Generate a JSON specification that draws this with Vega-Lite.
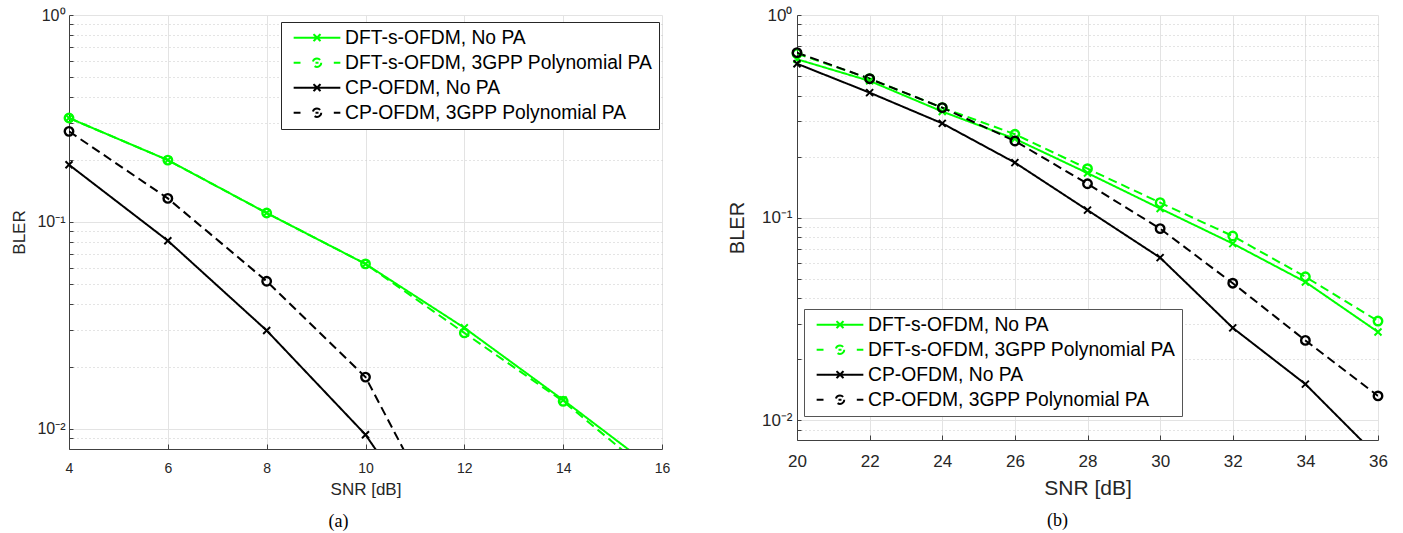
{
  "$schema": "https://vega.github.io/schema/vega-lite/v6.json",
  "padding": {"left": 10, "top": 6, "right": 5, "bottom": 2},
  "bounds": "flush",
  "spacing": 135,
  "resolve": {"scale": {"color": "independent", "strokeDash": "independent"}, "legend": {"color": "independent", "strokeDash": "independent"}},
  "config": {
    "view": {"stroke": null},
    "font": "Liberation Sans",
    "axis": {"labelFont": "Liberation Sans", "titleFont": "Liberation Sans", "titleFontWeight": "normal", "labelColor": "#262626", "titleColor": "#262626", "domainColor": "#404040", "tickColor": "#404040", "labelOverlap": false, "labelFlush": false}
  },
  "datasets": {
    "a": [
      {"series": "DFT-s-OFDM, No PA", "snr": 4, "bler": 0.318},
      {"series": "DFT-s-OFDM, No PA", "snr": 6, "bler": 0.199},
      {"series": "DFT-s-OFDM, No PA", "snr": 8, "bler": 0.1105},
      {"series": "DFT-s-OFDM, No PA", "snr": 10, "bler": 0.0627},
      {"series": "DFT-s-OFDM, No PA", "snr": 12, "bler": 0.0308},
      {"series": "DFT-s-OFDM, No PA", "snr": 14, "bler": 0.0138},
      {"series": "DFT-s-OFDM, No PA", "snr": 16, "bler": 0.006},
      {"series": "DFT-s-OFDM, 3GPP Polynomial PA", "snr": 4, "bler": 0.318},
      {"series": "DFT-s-OFDM, 3GPP Polynomial PA", "snr": 6, "bler": 0.199},
      {"series": "DFT-s-OFDM, 3GPP Polynomial PA", "snr": 8, "bler": 0.1105},
      {"series": "DFT-s-OFDM, 3GPP Polynomial PA", "snr": 10, "bler": 0.0627},
      {"series": "DFT-s-OFDM, 3GPP Polynomial PA", "snr": 12, "bler": 0.0291},
      {"series": "DFT-s-OFDM, 3GPP Polynomial PA", "snr": 14, "bler": 0.0136},
      {"series": "DFT-s-OFDM, 3GPP Polynomial PA", "snr": 16, "bler": 0.0055},
      {"series": "CP-OFDM, No PA", "snr": 4, "bler": 0.189},
      {"series": "CP-OFDM, No PA", "snr": 6, "bler": 0.0812},
      {"series": "CP-OFDM, No PA", "snr": 8, "bler": 0.0299},
      {"series": "CP-OFDM, No PA", "snr": 10, "bler": 0.00938},
      {"series": "CP-OFDM, No PA", "snr": 12, "bler": 0.0019},
      {"series": "CP-OFDM, 3GPP Polynomial PA", "snr": 4, "bler": 0.274},
      {"series": "CP-OFDM, 3GPP Polynomial PA", "snr": 6, "bler": 0.13},
      {"series": "CP-OFDM, 3GPP Polynomial PA", "snr": 8, "bler": 0.0517},
      {"series": "CP-OFDM, 3GPP Polynomial PA", "snr": 10, "bler": 0.0178},
      {"series": "CP-OFDM, 3GPP Polynomial PA", "snr": 12, "bler": 0.0022}
    ],
    "b": [
      {"series": "DFT-s-OFDM, No PA", "snr": 20, "bler": 0.605},
      {"series": "DFT-s-OFDM, No PA", "snr": 22, "bler": 0.473},
      {"series": "DFT-s-OFDM, No PA", "snr": 24, "bler": 0.334},
      {"series": "DFT-s-OFDM, No PA", "snr": 26, "bler": 0.245},
      {"series": "DFT-s-OFDM, No PA", "snr": 28, "bler": 0.166},
      {"series": "DFT-s-OFDM, No PA", "snr": 30, "bler": 0.111},
      {"series": "DFT-s-OFDM, No PA", "snr": 32, "bler": 0.0745},
      {"series": "DFT-s-OFDM, No PA", "snr": 34, "bler": 0.0482},
      {"series": "DFT-s-OFDM, No PA", "snr": 36, "bler": 0.0273},
      {"series": "DFT-s-OFDM, 3GPP Polynomial PA", "snr": 20, "bler": 0.645},
      {"series": "DFT-s-OFDM, 3GPP Polynomial PA", "snr": 22, "bler": 0.485},
      {"series": "DFT-s-OFDM, 3GPP Polynomial PA", "snr": 24, "bler": 0.349},
      {"series": "DFT-s-OFDM, 3GPP Polynomial PA", "snr": 26, "bler": 0.258},
      {"series": "DFT-s-OFDM, 3GPP Polynomial PA", "snr": 28, "bler": 0.1745},
      {"series": "DFT-s-OFDM, 3GPP Polynomial PA", "snr": 30, "bler": 0.1186},
      {"series": "DFT-s-OFDM, 3GPP Polynomial PA", "snr": 32, "bler": 0.0812},
      {"series": "DFT-s-OFDM, 3GPP Polynomial PA", "snr": 34, "bler": 0.0511},
      {"series": "DFT-s-OFDM, 3GPP Polynomial PA", "snr": 36, "bler": 0.0309},
      {"series": "CP-OFDM, No PA", "snr": 20, "bler": 0.575},
      {"series": "CP-OFDM, No PA", "snr": 22, "bler": 0.414},
      {"series": "CP-OFDM, No PA", "snr": 24, "bler": 0.292},
      {"series": "CP-OFDM, No PA", "snr": 26, "bler": 0.187},
      {"series": "CP-OFDM, No PA", "snr": 28, "bler": 0.109},
      {"series": "CP-OFDM, No PA", "snr": 30, "bler": 0.0635},
      {"series": "CP-OFDM, No PA", "snr": 32, "bler": 0.0286},
      {"series": "CP-OFDM, No PA", "snr": 34, "bler": 0.0151},
      {"series": "CP-OFDM, No PA", "snr": 36, "bler": 0.0066},
      {"series": "CP-OFDM, 3GPP Polynomial PA", "snr": 20, "bler": 0.652},
      {"series": "CP-OFDM, 3GPP Polynomial PA", "snr": 22, "bler": 0.485},
      {"series": "CP-OFDM, 3GPP Polynomial PA", "snr": 24, "bler": 0.349},
      {"series": "CP-OFDM, 3GPP Polynomial PA", "snr": 26, "bler": 0.239},
      {"series": "CP-OFDM, 3GPP Polynomial PA", "snr": 28, "bler": 0.147},
      {"series": "CP-OFDM, 3GPP Polynomial PA", "snr": 30, "bler": 0.0883},
      {"series": "CP-OFDM, 3GPP Polynomial PA", "snr": 32, "bler": 0.0475},
      {"series": "CP-OFDM, 3GPP Polynomial PA", "snr": 34, "bler": 0.0248},
      {"series": "CP-OFDM, 3GPP Polynomial PA", "snr": 36, "bler": 0.0132}
    ]
  },
  "hconcat": [
    {
      "width": 593,
      "height": 434,
      "data": {"name": "a"},
      "title": {"text": "(a)", "orient": "bottom", "anchor": "middle", "font": "Liberation Serif", "fontSize": 18, "fontWeight": "normal", "color": "#000000", "dx": -27, "offset": 16},
      "layer": [
        {
          "mark": {"type": "line", "clip": true, "strokeWidth": 2},
          "encoding": {
            "x": {"field": "snr", "type": "quantitative", "scale": {"domain": [4, 16], "nice": false, "zero": false},
              "axis": {"values": [4, 6, 8, 10, 12, 14, 16], "title": "SNR [dB]", "titleFontSize": 17, "labelFontSize": 14, "grid": true, "gridColor": "#e3e3e3", "tickSize": -5, "labelPadding": 17, "titlePadding": 6}},
            "y": {"field": "bler", "type": "quantitative", "scale": {"type": "log", "domain": [0.008, 1], "nice": false},
              "axis": {"values": [0.009, 0.01, 0.02, 0.03, 0.04, 0.05, 0.06, 0.07, 0.08, 0.09, 0.1, 0.2, 0.3, 0.4, 0.5, 0.6, 0.7, 0.8, 0.9, 1],
                "title": "BLER", "titleFontSize": 17, "labelFontSize": 16, "grid": true,
                "gridColor": {"condition": {"test": "abs(log(datum.value)/LN10 - round(log(datum.value)/LN10)) < 0.001", "value": "#e3e3e3"}, "value": "#c8c8c8"},
                "gridDash": {"condition": {"test": "abs(log(datum.value)/LN10 - round(log(datum.value)/LN10)) < 0.001", "value": []}, "value": [1, 3]},
                "labelExpr": "abs(log(datum.value)/LN10 - round(log(datum.value)/LN10)) < 0.001 ? (round(log(datum.value)/LN10) == 0 ? '10⁰' : (round(log(datum.value)/LN10) == -1 ? '10⁻¹' : '10⁻²')) : ''",
                "tickSize": -4, "labelPadding": 8, "titlePadding": 3, "minExtent": 38, "maxExtent": 38}},
            "color": {"field": "series", "type": "nominal",
              "scale": {"domain": ["DFT-s-OFDM, No PA", "DFT-s-OFDM, 3GPP Polynomial PA", "CP-OFDM, No PA", "CP-OFDM, 3GPP Polynomial PA"], "range": ["#00ff00", "#00ff00", "#000000", "#000000"]},
              "legend": {"title": null, "orient": "none", "legendX": 212, "legendY": 7, "labelFontSize": 19.3, "labelFont": "Liberation Sans", "labelColor": "#000000", "labelLimit": 500, "symbolSize": 100, "symbolOffset": 20.35, "symbolStrokeWidth": 2, "labelOffset": 18.4, "padding": 6, "rowPadding": 5, "strokeColor": "#262626", "fillColor": "#ffffff",
                "encode": {"symbols": {"update": {"shape": {"signal": "indexof(datum.value, 'No PA') >= 0 ? 'M-4.67,0L4.67,0M-0.7,-0.7L0.7,0.7M-0.7,0.7L0.7,-0.7' : 'M-4.67,0L-3.3,0M3.36,0L4.67,0M0.85,0C0.85,0.469,0.469,0.85,0,0.85C-0.469,0.85,-0.85,0.469,-0.85,0C-0.85,-0.469,-0.469,-0.85,0,-0.85C0.469,-0.85,0.85,-0.469,0.85,0ZM-0.3,0L0.3,0'"}, "fill": {"value": "transparent"}, "strokeWidth": {"value": 2}, "opacity": {"value": 1}}}}}},
            "strokeDash": {"field": "series", "type": "nominal",
              "scale": {"domain": ["DFT-s-OFDM, No PA", "DFT-s-OFDM, 3GPP Polynomial PA", "CP-OFDM, No PA", "CP-OFDM, 3GPP Polynomial PA"], "range": [[1, 0], [9, 5], [1, 0], [9, 5]]}, "legend": null}
          }
        },
        {
          "transform": [{"filter": "datum.bler >= 0.008 && indexof(datum.series, 'No PA') >= 0"}],
          "mark": {"type": "point", "shape": "M-1,-1L1,1M-1,1L1,-1", "size": 49, "strokeWidth": 2, "filled": false, "opacity": 1},
          "encoding": {
            "x": {"field": "snr", "type": "quantitative"},
            "y": {"field": "bler", "type": "quantitative"},
            "color": {"field": "series", "type": "nominal", "legend": null}
          }
        },
        {
          "transform": [{"filter": "datum.bler >= 0.008 && indexof(datum.series, 'Polynomial') >= 0"}],
          "mark": {"type": "point", "shape": "circle", "size": 72, "strokeWidth": 2.4, "filled": false, "opacity": 1},
          "encoding": {
            "x": {"field": "snr", "type": "quantitative"},
            "y": {"field": "bler", "type": "quantitative"},
            "color": {"field": "series", "type": "nominal", "legend": null}
          }
        }
      ]
    },
    {
      "width": 581,
      "height": 425,
      "data": {"name": "b"},
      "title": {"text": "(b)", "orient": "bottom", "anchor": "middle", "font": "Liberation Serif", "fontSize": 18, "fontWeight": "normal", "color": "#000000", "dx": -30, "offset": 13},
      "layer": [
        {
          "mark": {"type": "line", "clip": true, "strokeWidth": 2},
          "encoding": {
            "x": {"field": "snr", "type": "quantitative", "scale": {"domain": [20, 36], "nice": false, "zero": false},
              "axis": {"values": [20, 22, 24, 26, 28, 30, 32, 34, 36], "title": "SNR [dB]", "titleFontSize": 21, "labelFontSize": 17, "grid": true, "gridColor": "#e3e3e3", "tickSize": -5, "labelPadding": 18.5, "titlePadding": 8}},
            "y": {"field": "bler", "type": "quantitative", "scale": {"type": "log", "domain": [0.008, 1], "nice": false},
              "axis": {"values": [0.009, 0.01, 0.02, 0.03, 0.04, 0.05, 0.06, 0.07, 0.08, 0.09, 0.1, 0.2, 0.3, 0.4, 0.5, 0.6, 0.7, 0.8, 0.9, 1],
                "title": "BLER", "titleFontSize": 20, "labelFontSize": 17, "grid": true,
                "gridColor": {"condition": {"test": "abs(log(datum.value)/LN10 - round(log(datum.value)/LN10)) < 0.001", "value": "#e3e3e3"}, "value": "#c8c8c8"},
                "gridDash": {"condition": {"test": "abs(log(datum.value)/LN10 - round(log(datum.value)/LN10)) < 0.001", "value": []}, "value": [1, 3]},
                "labelExpr": "abs(log(datum.value)/LN10 - round(log(datum.value)/LN10)) < 0.001 ? (round(log(datum.value)/LN10) == 0 ? '10⁰' : (round(log(datum.value)/LN10) == -1 ? '10⁻¹' : '10⁻²')) : ''",
                "tickSize": -4, "labelPadding": 9, "titlePadding": 8, "minExtent": 42, "maxExtent": 42}},
            "color": {"field": "series", "type": "nominal",
              "scale": {"domain": ["DFT-s-OFDM, No PA", "DFT-s-OFDM, 3GPP Polynomial PA", "CP-OFDM, No PA", "CP-OFDM, 3GPP Polynomial PA"], "range": ["#00ff00", "#00ff00", "#000000", "#000000"]},
              "legend": {"title": null, "orient": "none", "legendX": 7, "legendY": 294, "labelFontSize": 19.3, "labelFont": "Liberation Sans", "labelColor": "#000000", "labelLimit": 500, "symbolSize": 100, "symbolOffset": 20.35, "symbolStrokeWidth": 2, "labelOffset": 18.4, "padding": 6, "rowPadding": 5, "strokeColor": "#555555", "fillColor": "#ffffff",
                "encode": {"symbols": {"update": {"shape": {"signal": "indexof(datum.value, 'No PA') >= 0 ? 'M-4.67,0L4.67,0M-0.7,-0.7L0.7,0.7M-0.7,0.7L0.7,-0.7' : 'M-4.67,0L-3.3,0M3.36,0L4.67,0M0.85,0C0.85,0.469,0.469,0.85,0,0.85C-0.469,0.85,-0.85,0.469,-0.85,0C-0.85,-0.469,-0.469,-0.85,0,-0.85C0.469,-0.85,0.85,-0.469,0.85,0ZM-0.3,0L0.3,0'"}, "fill": {"value": "transparent"}, "strokeWidth": {"value": 2}, "opacity": {"value": 1}}}}}},
            "strokeDash": {"field": "series", "type": "nominal",
              "scale": {"domain": ["DFT-s-OFDM, No PA", "DFT-s-OFDM, 3GPP Polynomial PA", "CP-OFDM, No PA", "CP-OFDM, 3GPP Polynomial PA"], "range": [[1, 0], [9, 5], [1, 0], [9, 5]]}, "legend": null}
          }
        },
        {
          "transform": [{"filter": "datum.bler >= 0.008 && indexof(datum.series, 'No PA') >= 0"}],
          "mark": {"type": "point", "shape": "M-1,-1L1,1M-1,1L1,-1", "size": 49, "strokeWidth": 2, "filled": false, "opacity": 1},
          "encoding": {
            "x": {"field": "snr", "type": "quantitative"},
            "y": {"field": "bler", "type": "quantitative"},
            "color": {"field": "series", "type": "nominal", "legend": null}
          }
        },
        {
          "transform": [{"filter": "datum.bler >= 0.008 && indexof(datum.series, 'Polynomial') >= 0"}],
          "mark": {"type": "point", "shape": "circle", "size": 72, "strokeWidth": 2.4, "filled": false, "opacity": 1},
          "encoding": {
            "x": {"field": "snr", "type": "quantitative"},
            "y": {"field": "bler", "type": "quantitative"},
            "color": {"field": "series", "type": "nominal", "legend": null}
          }
        }
      ]
    }
  ]
}
